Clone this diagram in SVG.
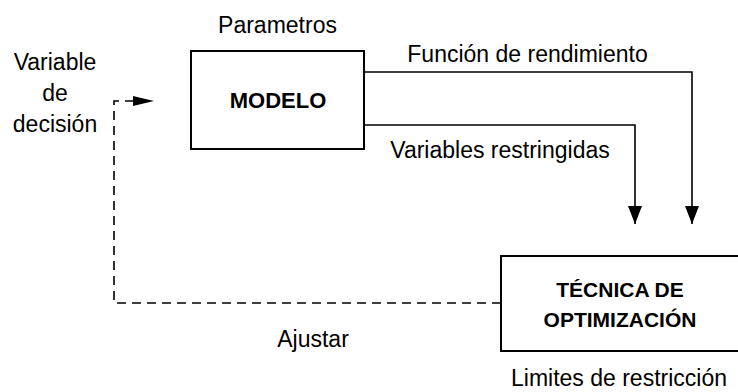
<svg xmlns="http://www.w3.org/2000/svg" width="738" height="392" viewBox="0 0 738 392">
  <style>
    .t { font-family: "Liberation Sans", Arial, sans-serif; font-size: 23px; fill: #000; text-anchor: middle; }
    .b { font-family: "Liberation Sans", Arial, sans-serif; font-weight: bold; fill: #000; text-anchor: middle; }
    .box { fill: #fff; stroke: #000; stroke-width: 2; }
    .ln { fill: none; stroke: #000; stroke-width: 1.6; }
    .dash { fill: none; stroke: #000; stroke-width: 1.6; stroke-dasharray: 9 6; }
  </style>
  <defs>
    <marker id="ah" markerUnits="userSpaceOnUse" markerWidth="18" markerHeight="14" refX="18" refY="7" orient="auto" viewBox="0 0 18 14">
      <polygon points="0,0 18,7 0,14" fill="#000"/>
    </marker>
    <marker id="ahDash" markerUnits="userSpaceOnUse" markerWidth="21" markerHeight="10" refX="0" refY="5" orient="auto" viewBox="0 0 21 10">
      <polygon points="0,0 21,5 0,10" fill="#000"/>
    </marker>
  </defs>
  <rect width="738" height="392" fill="#fff"/>

  <g id="connectors">
    <path class="ln" d="M364,72 H692 V224" marker-end="url(#ah)"/>
    <path class="ln" d="M364,125 H635 V224" marker-end="url(#ah)"/>
    <path class="dash" d="M501,303 H114 V101 H133" marker-end="url(#ahDash)"/>
  </g>

  <g id="modelo">
    <rect class="box" x="191" y="51" width="173" height="98"/>
    <text class="b" x="278" y="108" font-size="22">MODELO</text>
  </g>

  <g id="tecnica">
    <rect class="box" x="501" y="256" width="250" height="95"/>
    <text class="b" x="620" y="297" font-size="21">TÉCNICA DE</text>
    <text class="b" x="620" y="327" font-size="21">OPTIMIZACIÓN</text>
  </g>

  <g id="labels">
    <text class="t" x="277.5" y="33">Parametros</text>
    <text class="t" x="55" y="70">Variable</text>
    <text class="t" x="55" y="101">de</text>
    <text class="t" x="55" y="132">decisión</text>
    <text class="t" x="527.5" y="62">Función de rendimiento</text>
    <text class="t" x="500" y="158">Variables restringidas</text>
    <text class="t" x="313" y="347">Ajustar</text>
    <text class="t" x="619" y="386">Limites de restricción</text>
  </g>
</svg>
